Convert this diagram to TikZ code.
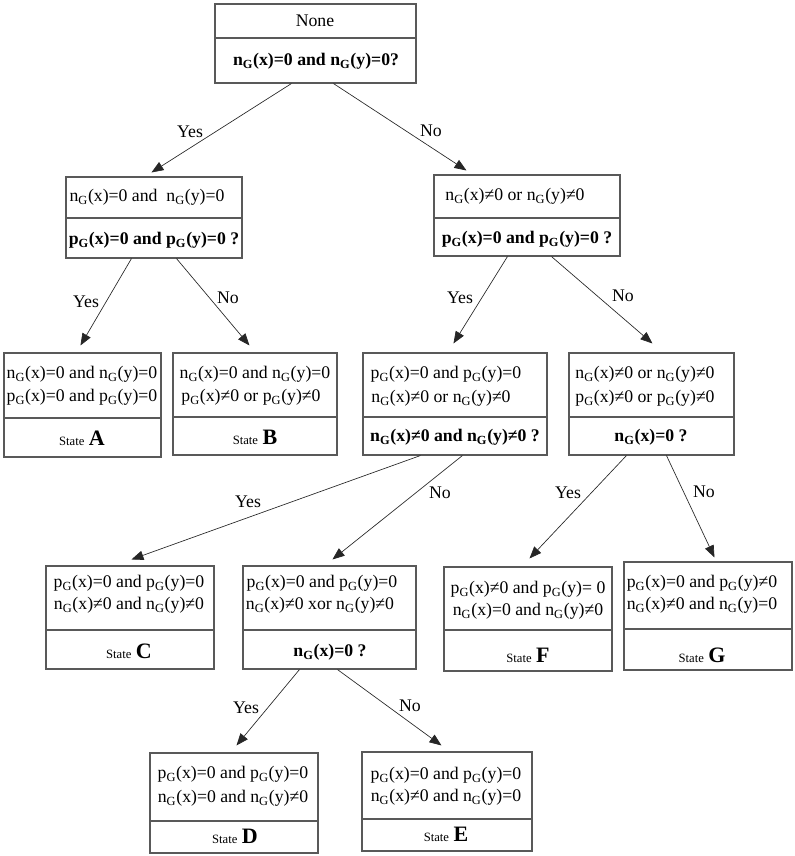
\documentclass[tikz,border=0pt]{standalone}
\usepackage{fontspec}
\setmainfont{Liberation Serif}
\usetikzlibrary{arrows.meta,calc,fit}
\newcommand{\sg}{\textsubscript{G}}
\newcommand{\stl}[1]{{\fontsize{9.5}{11}\selectfont State} {\fontsize{16.5}{18}\selectfont\bfseries #1}}
\begin{document}
\begin{tikzpicture}[x=0.75pt,y=-0.75pt,
  box/.style={draw=black!65, line width=0.8pt, inner sep=0pt, fit={#1}},
  div/.style={draw=black!65, line width=0.8pt},
  txt/.style={font=\fontsize{13.3}{16}\selectfont, inner sep=0pt},
  btxt/.style={font=\fontsize{13.3}{16}\selectfont\bfseries, inner sep=0pt},
  arr/.style={draw=black!85, line width=0.5pt, -{Triangle[length=9pt,width=7pt]}},
  lbl/.style={font=\fontsize{13.3}{16}\selectfont, inner sep=0pt}]
\useasboundingbox (0,0) rectangle (794,856);

% ---------- boxes ----------
\node[box={(215,4) (416,83)}] (top) {};
\draw[div] (top.west |- 0,38) -- (top.east |- 0,38);
\node[txt] (top1) at (315,21) {None};
\node[btxt] (top2) at (316,61) {n\sg(x)=0 and n\sg(y)=0?};

\node[box={(66,177) (242,258)}] (L2) {};
\draw[div] (L2.west |- 0,218) -- (L2.east |- 0,218);
\node[txt] (L21) at (147,197) {n\sg(x)=0 and\ \ n\sg(y)=0};
\node[btxt] (L22) at (154,240) {p\sg(x)=0 and p\sg(y)=0 ?};

\node[box={(434,175) (620,256)}] (R2) {};
\draw[div] (R2.west |- 0,218) -- (R2.east |- 0,218);
\node[txt] (R21) at (515,196) {n\sg(x)≠0 or n\sg(y)≠0};
\node[btxt] (R22) at (527,239) {p\sg(x)=0 and p\sg(y)=0 ?};

\node[box={(4,353) (161,457)}] (A) {};
\draw[div] (A.west |- 0,418) -- (A.east |- 0,418);
\node[txt] (A1) at (82,374) {n\sg(x)=0 and n\sg(y)=0};
\node[txt] (A2) at (82,397) {p\sg(x)=0 and p\sg(y)=0};
\node[txt] (A3) at (82,438) {\stl{A}};

\node[box={(173,353) (337,455)}] (B) {};
\draw[div] (B.west |- 0,417) -- (B.east |- 0,417);
\node[txt] (B1) at (255,374) {n\sg(x)=0 and n\sg(y)=0};
\node[txt] (B2) at (251,397) {p\sg(x)≠0 or p\sg(y)≠0};
\node[txt] (B3) at (255,437) {\stl{B}};

\node[box={(363,353) (547,455)}] (P) {};
\draw[div] (P.west |- 0,417) -- (P.east |- 0,417);
\node[txt] (P1) at (446,374) {p\sg(x)=0 and p\sg(y)=0};
\node[txt] (P2) at (441,398) {n\sg(x)≠0 or n\sg(y)≠0};
\node[btxt] (P3) at (455,437) {n\sg(x)≠0 and n\sg(y)≠0 ?};

\node[box={(569,353) (734,455)}] (Q) {};
\draw[div] (Q.west |- 0,417) -- (Q.east |- 0,417);
\node[txt] (Q1) at (645,374) {n\sg(x)≠0 or n\sg(y)≠0};
\node[txt] (Q2) at (645,398) {p\sg(x)≠0 or p\sg(y)≠0};
\node[btxt] (Q3) at (651,437) {n\sg(x)=0 ?};

\node[box={(46,566) (214,669)}] (C) {};
\draw[div] (C.west |- 0,630) -- (C.east |- 0,630);
\node[txt] (C1) at (129,583) {p\sg(x)=0 and p\sg(y)=0};
\node[txt] (C2) at (129,605) {n\sg(x)≠0 and n\sg(y)≠0};
\node[txt] (C3) at (129,651) {\stl{C}};

\node[box={(243,566) (416,669)}] (H) {};
\draw[div] (H.west |- 0,630) -- (H.east |- 0,630);
\node[txt] (H1) at (322,583) {p\sg(x)=0 and p\sg(y)=0};
\node[txt] (H2) at (320,605) {n\sg(x)≠0 xor n\sg(y)≠0};
\node[btxt] (H3) at (330,652) {n\sg(x)=0 ?};

\node[box={(444,567) (612,671)}] (F) {};
\draw[div] (F.west |- 0,630) -- (F.east |- 0,630);
\node[txt] (F1) at (528,589) {p\sg(x)≠0 and p\sg(y)= 0};
\node[txt] (F2) at (528,611) {n\sg(x)=0 and n\sg(y)≠0};
\node[txt] (F3) at (528,655) {\stl{F}};

\node[box={(624,562) (792,670)}] (G) {};
\draw[div] (G.west |- 0,629) -- (G.east |- 0,629);
\node[txt] (G1) at (702,583) {p\sg(x)=0 and p\sg(y)≠0};
\node[txt] (G2) at (702,605) {n\sg(x)≠0 and n\sg(y)=0};
\node[txt] (G3) at (702,655) {\stl{G}};

\node[box={(150,753) (318,853)}] (D) {};
\draw[div] (D.west |- 0,821) -- (D.east |- 0,821);
\node[txt] (D1) at (233,774) {p\sg(x)=0 and p\sg(y)=0};
\node[txt] (D2) at (233,798) {n\sg(x)=0 and n\sg(y)≠0};
\node[txt] (D3) at (235,836) {\stl{D}};

\node[box={(362,752) (532,851)}] (E) {};
\draw[div] (E.west |- 0,819) -- (E.east |- 0,819);
\node[txt] (E1) at (446,775) {p\sg(x)=0 and p\sg(y)=0};
\node[txt] (E2) at (446,797) {n\sg(x)≠0 and n\sg(y)=0};
\node[txt] (E3) at (446,834) {\stl{E}};

% ---------- connectors ----------
\draw[arr] ($(top.south west)+(77,0)$) -- ($(L2.north west)+(86,-4)$);
\draw[arr] ($(top.south west)+(119,0)$) -- ($(R2.north west)+(33,-4)$);
\draw[arr] ($(L2.south west)+(66,0)$) -- ($(A.north west)+(77,-7)$);
\draw[arr] ($(L2.south west)+(111,0)$) -- ($(B.north west)+(77,-7)$);
\draw[arr] ($(R2.south west)+(74,0)$) -- ($(P.north west)+(91,-9)$);
\draw[arr] ($(R2.south west)+(118,0)$) -- ($(Q.north west)+(84,-9)$);
\draw[arr] ($(P.south west)+(58,0)$) -- ($(C.north west)+(86,-6)$);
\draw[arr] ($(P.south west)+(100,0)$) -- ($(H.north west)+(90,-6)$);
\draw[arr] ($(Q.south west)+(58,0)$) -- ($(F.north west)+(86,-8)$);
\draw[arr] ($(Q.south west)+(98,0)$) -- ($(G.north west)+(91,-4)$);
\draw[arr] ($(H.south west)+(57,0)$) -- ($(D.north west)+(87,-7)$);
\draw[arr] ($(H.south west)+(95,0)$) -- ($(E.north west)+(80,-6)$);

% ---------- labels ----------
\node[lbl] (y1) at (190,132) {Yes};
\node[lbl] (n1) at (431,131) {No};
\node[lbl] (y2) at (86,302) {Yes};
\node[lbl] (n2) at (228,298) {No};
\node[lbl] (y3) at (460,298) {Yes};
\node[lbl] (n3) at (623,296) {No};
\node[lbl] (y4) at (248,502) {Yes};
\node[lbl] (n4) at (440,493) {No};
\node[lbl] (y5) at (568,493) {Yes};
\node[lbl] (n5) at (704,492) {No};
\node[lbl] (y6) at (246,708) {Yes};
\node[lbl] (n6) at (410,706) {No};
\end{tikzpicture}
\end{document}
